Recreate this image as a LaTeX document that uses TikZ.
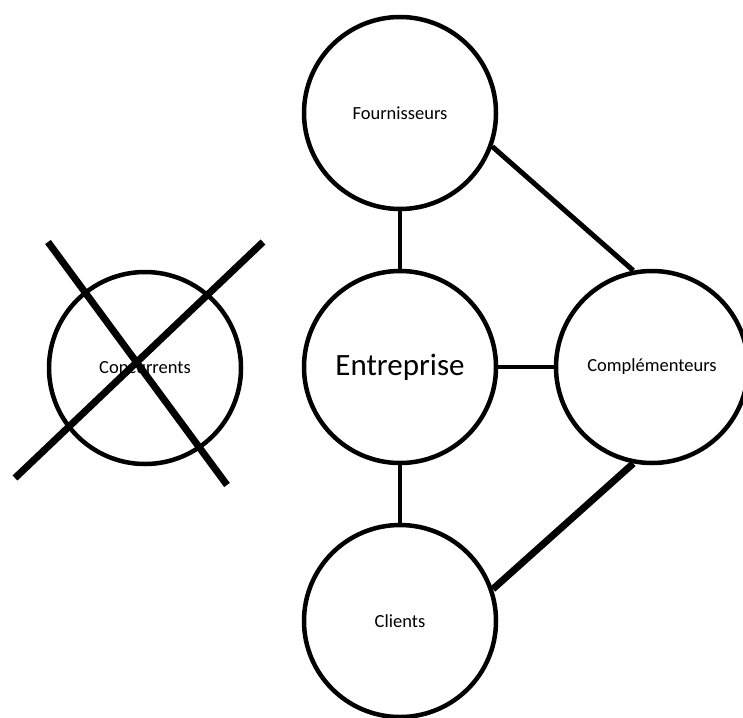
\documentclass[tikz,border=0pt]{standalone}
\usepackage{fontspec}
\setmainfont{Carlito}
\usepackage{tikz}
\tikzset{
    acteur/.style={draw, circle, line width=4.5pt, minimum size=192pt, inner sep=0pt,
        font=\fontsize{18.5}{22}\selectfont},
    lien/.style={line width=4pt},
}

\begin{document}
\begin{tikzpicture}[x=1pt, y=-1pt]
    \useasboundingbox[fill=white] (0,0) rectangle (743,717);

    \node[acteur] (fourn) at (400,113) {Fournisseurs};
    \node[acteur, font=\fontsize{31}{36}\selectfont] (entr) at (400,367) {Entreprise};
    \node[acteur] (compl) at (652,367) {Compl\'ementeurs};
    \node[acteur] (clients) at (400,621) {Clients};
    \node[acteur] (concur) at (145,368) {Concurrents};

    \draw[lien] (fourn) -- (entr);
    \draw[lien] (entr) -- (compl);
    \draw[lien] (entr) -- (clients);
    \draw[lien, line width=5pt] (fourn.-20) -- (compl.101);
    \draw[lien, line width=7pt] (compl.-101) -- (clients.19);

    % la croix sur les concurrents
    \coordinate (x1) at (48,242);
    \coordinate (x2) at (227,485);
    \coordinate (x3) at (263,242);
    \coordinate (x4) at (15,478);
    \draw[line width=7pt] (x1) -- (x2);
    \draw[line width=7pt] (x3) -- (x4);
\end{tikzpicture}
\end{document}
